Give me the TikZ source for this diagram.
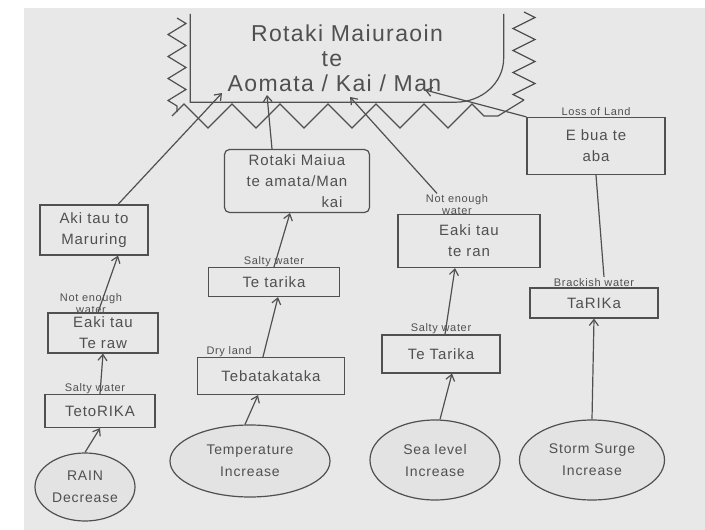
\documentclass[tikz,border=0pt]{standalone}
\usepackage{fontspec}
\setmainfont[LetterSpace=6]{Liberation Sans}
\usepackage{xcolor}
\usetikzlibrary{positioning,arrows.meta,shapes.geometric,decorations.pathmorphing}
\definecolor{paper}{HTML}{E8E8E8}
\definecolor{pen}{HTML}{505050}
\definecolor{ovalgrey}{HTML}{E3E3E3}

\begin{document}
\begin{tikzpicture}[x=1pt,y=-1pt,
node distance=0pt,
box/.style={draw=pen, line width=1.2pt, align=center, text=pen, font=\fontsize{15}{21}\selectfont, inner sep=2pt},
oval/.style={ellipse, draw=pen, fill=ovalgrey, line width=1.2pt, align=center, text=pen, font=\fontsize{14}{22}\selectfont, inner sep=0pt},
lab/.style={text=pen, font=\fontsize{11}{12}\selectfont, inner sep=1pt, align=center},
arr/.style={-{Straight Barb[length=6pt,width=9pt]}, draw=pen, line width=1.2pt},
ink/.style={draw=pen, line width=1.2pt}
]
\fill[white] (0,0) rectangle (705,530);
\fill[paper] (24,8) rectangle (705,530);

\node[text=pen, align=center, font=\fontsize{23}{25}\selectfont, minimum width=313pt, minimum height=88pt, inner sep=0pt] (goal) at (347,58) {Rotaki Maiuraoin\\\hspace*{-30pt}te\\\hspace*{-25pt}Aomata / Kai / Man};
\draw[ink] (goal.north west) -- (goal.south west) -- ([xshift=-48pt]goal.south east) to[out=0,in=-90] (goal.east) -- (goal.north east);
\draw[ink, decorate, decoration={zigzag, segment length=22pt, amplitude=9pt}] (177,18) -- (177,112);
\draw[ink, decorate, decoration={zigzag, segment length=48pt, amplitude=12pt}] (172,116) -- (498,116);
\draw[ink, decorate, decoration={zigzag, segment length=22pt, amplitude=11pt}] (524,12) -- (524,100);
\draw[ink] (524,100) -- (498,116);
\coordinate (in1) at (222,93);
\coordinate (in2) at (267,95);
\coordinate (in3) at (350,97);
\coordinate (in4) at (425,90);

\node[box, minimum width=108pt, minimum height=50pt] (aki) at (94,230) {Aki tau to\\Maruring};
\node[box, minimum width=110pt, minimum height=40pt] (eakiA) at (103,333) {Eaki tau\\Te raw};
\node[lab, above=-2pt of eakiA, xshift=-12pt] (eakiAlab) {Not enough\\water};
\node[box, minimum width=110pt, minimum height=33pt] (tetorika) at (100,411) {TetoRIKA};
\node[lab, above=-1pt of tetorika, xshift=-5pt] (tetorikalab) {Salty water};
\node[oval, minimum width=100pt, minimum height=68pt] (rain) at (85,487) {RAIN\\Decrease};

\node[box, rounded corners=5pt, minimum width=145pt, minimum height=63pt] (rotaki) at (297,181) {Rotaki Maiua\\te amata/Man\\\hspace*{70pt}kai};
\node[box, minimum width=131pt, minimum height=29pt] (tetarika) at (274,282) {Te tarika};
\node[lab, above=-1pt of tetarika] (tetarikalab) {Salty water};
\node[box, minimum width=147pt, minimum height=37pt] (tebata) at (271,376) {Tebatakataka};
\node[lab, above=-1pt of tebata, xshift=-42pt] (tebatalab) {Dry land};
\node[oval, minimum width=160pt, minimum height=72pt] (temp) at (250,461) {Temperature\\Increase};

\node[box, minimum width=142pt, minimum height=53pt] (eakiB) at (469,241) {Eaki tau\\te ran};
\node[lab, above=-2pt of eakiB, xshift=-12pt] (eakiBlab) {Not enough\\water};
\node[box, minimum width=118pt, minimum height=38pt] (tetarikaB) at (441,354) {Te Tarika};
\node[lab, above=-1pt of tetarikaB] (tetarikaBlab) {Salty water};
\node[oval, minimum width=130pt, minimum height=80pt] (sea) at (435,460) {Sea level\\Increase};

\node[box, minimum width=138pt, minimum height=57pt] (ebua) at (596,146) {E bua te\\aba};
\node[lab, above=0pt of ebua] (ebualab) {Loss of Land};
\node[box, minimum width=128pt, minimum height=30pt] (tarika) at (594,303) {TaRIKa};
\node[lab, above=0pt of tarika] (tarikalab) {Brackish water};
\node[oval, minimum width=145pt, minimum height=80pt] (storm) at (592,460) {Storm Surge\\Increase};

\draw[arr] (rain.north) -- (tetorika.south);
\draw[arr] (tetorika.north) -- (eakiA.south);
\draw[arr] ([xshift=-5pt]eakiA.north) -- ([xshift=24pt]aki.south);
\draw[arr] ([xshift=24pt]aki.north) -- (in1);
\draw[arr] ([xshift=-5pt]temp.north) -- ([xshift=-13pt]tebata.south);
\draw[arr] ([xshift=-8pt]tebata.north) -- ([xshift=4pt]tetarika.south);
\draw[arr] (tetarika.north) -- ([xshift=-7pt]rotaki.south);
\draw[arr] ([xshift=-25pt]rotaki.north) -- (in2);
\draw[arr] ([xshift=5pt]sea.north) -- ([xshift=11pt]tetarikaB.south);
\draw[arr] ([xshift=4pt]tetarikaB.north) -- ([xshift=-14pt]eakiB.south);
\draw[arr] ([xshift=-20pt]eakiBlab.north) -- (in3);
\draw[arr] (storm.north) -- (tarika.south);
\draw[ink] ([xshift=10pt]tarikalab.north) -- (ebua.south);
\draw[arr] (ebua.north west) -- (in4);
\end{tikzpicture}
\end{document}
